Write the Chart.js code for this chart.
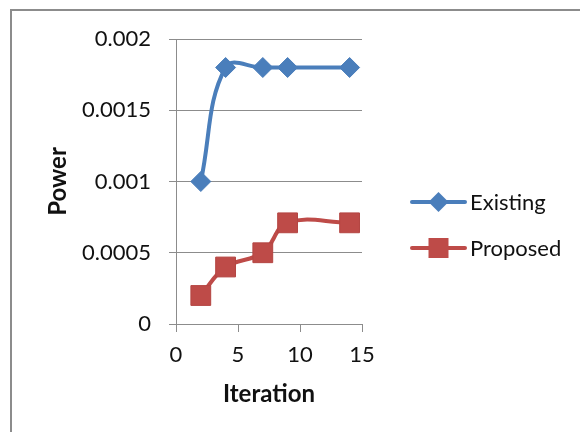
<!DOCTYPE html>
<html>
<head>
<meta charset="utf-8">
<script src="https://cdn.jsdelivr.net/npm/chart.js@4"></script>
<style>
  html, body { margin: 0; padding: 0; background: #fff; }
  #wrap { position: relative; width: 580px; height: 432px; overflow: hidden; }
  #frame { position: absolute; left: 10px; top: 9px; width: 600px; height: 460px; border: 2px solid #8c8c8c; }
  canvas { position: absolute; left: 0; top: 0; }
</style>
</head>
<body>
<div id="wrap">
  <div id="frame"></div>
  <canvas id="c" width="580" height="432"></canvas>
</div>
<script>
// data
const iterations = [2, 4, 7, 9, 14];
const existing = [0.001, 0.0018, 0.0018, 0.0018, 0.0018];
const proposed = [0.0002, 0.0004, 0.0005, 0.00071, 0.00071];
const seriesNames = ['Existing', 'Proposed'];
const xTicks = [0, 5, 10, 15];
const yTicks = [0, 0.0005, 0.001, 0.0015, 0.002];

const blue = '#4a7ebb';
const red = '#be4b48';
const fontFam = 'Lato, "Open Sans", sans-serif';

function pts(xs, ys) {
    return xs.map(function (x, i) { return { x: x, y: ys[i] }; });
}

// legend drawn by hand: line with marker in the middle, like Excel
const sideLegend = {
    id: 'sideLegend',
    afterDraw(chart) {
        const ctx = chart.ctx;
        const a = chart.chartArea;
        const x0 = a.right + 50, x1 = a.right + 103, tx = a.right + 108;
        const rows = [a.top + 163, a.top + 209];
        chart.data.datasets.forEach(function (ds, i) {
            const y = rows[i];
            ctx.save();
            ctx.strokeStyle = ds.borderColor;
            ctx.lineWidth = 4;
            ctx.lineCap = 'round';
            ctx.beginPath();
            ctx.moveTo(x0, y);
            ctx.lineTo(x1, y);
            ctx.stroke();
            ctx.fillStyle = ds.pointBackgroundColor;
            ctx.beginPath();
            if (ds.pointStyle === 'rectRot') {
                ctx.moveTo((x0 + x1) / 2, y - 10);
                ctx.lineTo((x0 + x1) / 2 + 10, y);
                ctx.lineTo((x0 + x1) / 2, y + 10);
                ctx.lineTo((x0 + x1) / 2 - 10, y);
                ctx.closePath();
            } else {
                ctx.rect((x0 + x1) / 2 - 10, y - 10, 20, 20);
            }
            ctx.fill();
            ctx.fillStyle = '#111';
            ctx.font = '22px ' + fontFam;
            ctx.textBaseline = 'middle';
            ctx.fillText(ds.label, tx, y + 1);
            ctx.restore();
        });
    }
};

new Chart(document.getElementById('c'), {
    type: 'scatter',
    data: {
        datasets: [{
            label: seriesNames[0],
            data: pts(iterations, existing),
            showLine: true,
            tension: 0.4,
            borderColor: blue,
            backgroundColor: blue,
            borderWidth: 4,
            pointStyle: 'rectRot',
            pointRadius: 10,
            pointBackgroundColor: blue,
            pointBorderColor: blue,
            pointBorderWidth: 1
        }, {
            label: seriesNames[1],
            data: pts(iterations, proposed),
            showLine: true,
            tension: 0.4,
            borderColor: red,
            backgroundColor: red,
            borderWidth: 4,
            pointStyle: 'rect',
            pointRadius: 14,
            pointBackgroundColor: red,
            pointBorderColor: '#b44542',
            pointBorderWidth: 1
        }]
    },
    options: {
        responsive: false,
        animation: false,
        layout: { padding: { left: 0, top: 39, right: 218, bottom: 0 } },
        plugins: { legend: { display: false }, tooltip: { enabled: false } },
        scales: {
            x: {
                type: 'linear',
                min: 0,
                max: 15,
                afterBuildTicks: function (s) { s.ticks = xTicks.map(function (v) { return { value: v }; }); },
                afterFit: function (s) { s.height = 108; },
                grid: { display: true, drawOnChartArea: false, drawTicks: true, tickLength: 8, color: '#8c8c8c', lineWidth: 1 },
                border: { display: true, color: '#8c8c8c', width: 1 },
                ticks: { color: '#111', font: { family: fontFam, size: 22 }, padding: 10, maxRotation: 0 },
                title: { display: true, text: 'Iteration', color: '#111', font: { family: fontFam, size: 24, weight: 'bold' }, padding: { top: 0, bottom: 23 } }
            },
            y: {
                type: 'linear',
                min: 0,
                max: 0.002,
                afterBuildTicks: function (s) { s.ticks = yTicks.map(function (v) { return { value: v }; }); },
                afterFit: function (s) { s.width = 176; },
                grid: { color: '#8c8c8c', lineWidth: 1, drawTicks: true, tickLength: 7 },
                border: { display: true, color: '#8c8c8c', width: 1 },
                ticks: {
                    color: '#111',
                    font: { family: fontFam, size: 22 },
                    padding: 18,
                    callback: function (v) { return String(v); }
                },
                title: { display: true, text: 'Power', color: '#111', font: { family: fontFam, size: 24, weight: 'bold' }, padding: { top: 44, bottom: 0 } }
            }
        }
    },
    plugins: [sideLegend]
});
</script>
</body>
</html>
